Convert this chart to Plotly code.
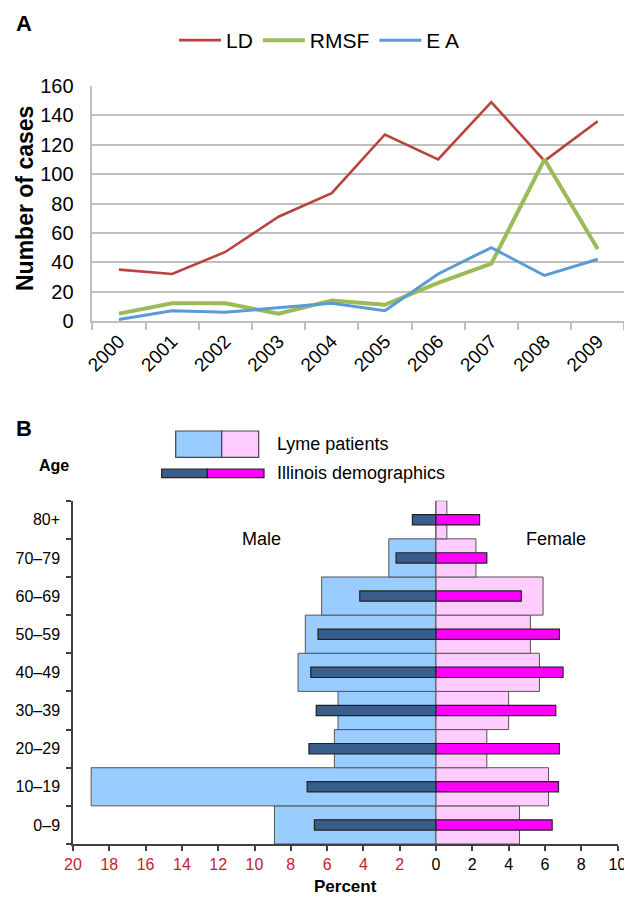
import plotly.graph_objects as go

# The page body adds an 8px margin, so the figure is 8px smaller and every
# reference pixel coordinate is shifted by that offset.
OFF = 8
W, H = 632 - OFF, 897 - OFF
FONT = "Liberation Sans, Arial, sans-serif"


def fx(p):
    return (p - OFF) / W


def fy(p):
    return 1 - (p - OFF) / H


# ---------------- Panel A data ----------------
years = ["2000", "2001", "2002", "2003", "2004", "2005", "2006", "2007", "2008", "2009"]
ld_cases = [35, 32, 47, 71, 87, 127, 110, 149, 109, 136]
rmsf_cases = [5, 12, 12, 5, 14, 11, 26, 39, 110, 49]
ea_cases = [1, 7, 6, 9, 12, 7, 32, 50, 31, 42]

# ---------------- Panel B data ----------------
age_groups = ["0–9", "10–19", "20–29", "30–39", "40–49", "50–59", "60–69", "70–79", "80+"]
lyme_male = [8.9, 19.0, 5.6, 5.4, 7.6, 7.2, 6.3, 2.6, 0.0]
lyme_female = [4.6, 6.2, 2.8, 4.0, 5.7, 5.2, 5.9, 2.2, 0.6]
illinois_male = [6.7, 7.1, 7.0, 6.6, 6.9, 6.5, 4.2, 2.2, 1.3]
illinois_female = [6.4, 6.75, 6.8, 6.6, 7.0, 6.8, 4.7, 2.8, 2.4]
percent_ticks = [-20, -18, -16, -14, -12, -10, -8, -6, -4, -2, 0, 2, 4, 6, 8, 10]

C_LD = "#B8433F"
C_RMSF = "#9BBB59"
C_EA = "#5B9BD5"
C_LM = "#99CCFF"
C_LF = "#FFCCFF"
C_IM = "#3A5E8C"
C_IF = "#FF00FF"
GRID = "#BFBFBF"
AX = "#404040"
RED = "#C8202E"

fig = go.Figure()

fig.add_trace(go.Scatter(x=years, y=ld_cases, mode="lines", name="LD",
                         line=dict(color=C_LD, width=2.6), xaxis="x", yaxis="y"))
fig.add_trace(go.Scatter(x=years, y=rmsf_cases, mode="lines", name="RMSF",
                         line=dict(color=C_RMSF, width=4), xaxis="x", yaxis="y"))
fig.add_trace(go.Scatter(x=years, y=ea_cases, mode="lines", name="E A",
                         line=dict(color=C_EA, width=3), xaxis="x", yaxis="y"))

fig.add_trace(go.Bar(y=age_groups, x=[-v for v in lyme_male], orientation="h", width=1,
                     marker=dict(color=C_LM, line=dict(color="#555555", width=1)),
                     showlegend=False, xaxis="x2", yaxis="y2"))
fig.add_trace(go.Bar(y=age_groups, x=lyme_female, orientation="h", width=1,
                     marker=dict(color=C_LF, line=dict(color="#555555", width=1)),
                     showlegend=False, xaxis="x2", yaxis="y2"))
fig.add_trace(go.Bar(y=age_groups, x=[-v for v in illinois_male], orientation="h", width=0.27,
                     marker=dict(color=C_IM, line=dict(color="#222222", width=1.2)),
                     showlegend=False, xaxis="x2", yaxis="y2"))
fig.add_trace(go.Bar(y=age_groups, x=illinois_female, orientation="h", width=0.27,
                     marker=dict(color=C_IF, line=dict(color="#222222", width=1.2)),
                     showlegend=False, xaxis="x2", yaxis="y2"))

tick_text = []
for v in percent_ticks:
    if v < 0:
        tick_text.append('<span style="color:%s">%d</span>' % (RED, -v))
    else:
        tick_text.append(str(v))

boundaries = [i - 0.5 for i in range(len(age_groups) + 1)]

fig.update_layout(
    width=W, height=H,
    margin=dict(l=0, r=0, t=0, b=0),
    paper_bgcolor="white", plot_bgcolor="white",
    font=dict(family=FONT, color="black"),
    barmode="overlay",
    showlegend=True,
    legend=dict(orientation="h", x=fx(174), y=fy(20), xanchor="left", yanchor="top",
                font=dict(size=21, family=FONT), bgcolor="rgba(0,0,0,0)",
                itemwidth=42, tracegroupgap=0),
    xaxis=dict(domain=[fx(92.3), fx(624.3)], anchor="y", type="category", automargin=False,
               range=[-0.5, 9.5],
               showline=True, linecolor=GRID, linewidth=1.5,
               ticks="outside", tickson="boundaries", ticklen=7, tickcolor=GRID, tickwidth=1.5,
               tickangle=-45, tickfont=dict(size=19), showgrid=False, zeroline=False),
    yaxis=dict(domain=[fy(321), fy(86)], anchor="x", range=[0, 160], dtick=20, automargin=False,
               showline=True, linecolor=GRID, linewidth=1.5,
               showgrid=True, gridcolor=GRID, gridwidth=1.5, zeroline=False,
               ticks="", ticklabelstandoff=13, tickfont=dict(size=20)),
    xaxis2=dict(domain=[fx(73), fx(617.5)], anchor="y2", range=[-20, 10], automargin=False,
                tickvals=percent_ticks, ticktext=tick_text,
                showline=True, linecolor=AX, linewidth=1.5,
                ticks="outside", ticklen=5, tickcolor=AX, tickwidth=1.5,
                tickfont=dict(size=16), showgrid=False, zeroline=False),
    xaxis3=dict(overlaying="x2", anchor="y2", range=[-20, 10], tickvals=percent_ticks,
                automargin=False,
                ticks="inside", ticklen=5, tickcolor=AX, tickwidth=1.5,
                showticklabels=False, showgrid=False, zeroline=False, showline=False),
    yaxis2=dict(domain=[fy(844), fy(500.7)], anchor="x2", type="category", automargin=False,
                categoryorder="array", categoryarray=age_groups, range=[-0.5, 8.5],
                showline=True, linecolor=AX, linewidth=1.5,
                ticks="outside", tickson="boundaries", ticklen=5, tickcolor=AX, tickwidth=1.5,
                ticklabelstandoff=8, tickfont=dict(size=16), showgrid=False, zeroline=False),
    yaxis3=dict(overlaying="y2", anchor="x2", range=[-0.5, 8.5], tickvals=boundaries,
                automargin=False,
                ticks="inside", ticklen=5, tickcolor=AX, tickwidth=1.5,
                showticklabels=False, showgrid=False, zeroline=False, showline=False),
)

annotations = [
    dict(text="<b>A</b>", x=fx(24), y=fy(23), font=dict(size=22)),
    dict(text="<b>Number of cases</b>", x=fx(25), y=fy(199), textangle=-90, font=dict(size=23)),
    dict(text="<b>B</b>", x=fx(24), y=fy(428), font=dict(size=22)),
    dict(text="<b>Age</b>", x=fx(54), y=fy(465), font=dict(size=16)),
    dict(text="Lyme patients", x=fx(275), y=fy(444), xanchor="left", font=dict(size=18)),
    dict(text="Illinois demographics", x=fx(275), y=fy(473), xanchor="left", font=dict(size=18)),
    dict(text="<b>Percent</b>", x=fx(345), y=fy(886), font=dict(size=17)),
]
for a in annotations:
    a.setdefault("xanchor", "center")
    a.update(xref="paper", yref="paper", yanchor="middle", showarrow=False)
    fig.add_annotation(**a)

fig.add_annotation(text="Male", x=-9.6, y=7.5, xref="x2", yref="y2", showarrow=False,
                   font=dict(size=18))
fig.add_annotation(text="Female", x=6.6, y=7.5, xref="x2", yref="y2", showarrow=False,
                   font=dict(size=18))

legend_shapes = [
    (175.7, 221.7, 431, 457.3, C_LM, "#444444"),
    (221.7, 258.7, 431, 457.3, C_LF, "#444444"),
    (161.7, 207.3, 469, 477.7, C_IM, "#222222"),
    (207.3, 264.0, 469, 477.7, C_IF, "#222222"),
]
for x0, x1, y0, y1, fc, lc in legend_shapes:
    fig.add_shape(type="rect", xref="paper", yref="paper",
                  x0=fx(x0), x1=fx(x1), y0=fy(y1), y1=fy(y0),
                  fillcolor=fc, line=dict(color=lc, width=1.2))

fig.write_html("out.html")
